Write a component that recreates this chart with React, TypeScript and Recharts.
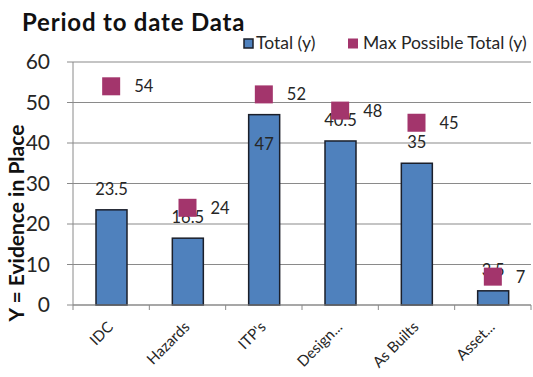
import { Bar, ComposedChart, CartesianGrid, Scatter, XAxis, YAxis } from 'recharts';

const categories = ['IDC', 'Hazards', "ITP's", 'Design...', 'As Builts', 'Asset...'];
const totalValues = [23.5, 16.5, 47, 40.5, 35, 3.5];
const maxValues = [54, 24, 52, 48, 45, 7];
const yTicks = [0, 10, 20, 30, 40, 50, 60];

const data = categories.map((name, i) => ({
  name,
  total: totalValues[i],
  max: maxValues[i],
}));

const FONT = 'Lato, "Open Sans", sans-serif';
const BAR_FILL = '#4F81BD';
const BAR_STROKE = '#1b1f2a';
const MARK_FILL = '#A3356C';
const AXIS = '#8a8a8a';
const TEXT = '#262626';

function TotalBar(props: any) {
  const { x, y, width, height, value } = props;
  const v = Array.isArray(value) ? value[1] : value;
  // Excel pushed the tallest label inside the bar, the rest sit above
  const inside = v >= 45;
  return (
    <g>
      <rect x={x} y={y} width={width} height={height} fill={BAR_FILL} stroke={BAR_STROKE} strokeWidth={1.5} />
      <text
        x={x + width / 2}
        y={inside ? y + 35 : y - 15}
        textAnchor="middle"
        fontSize={16.5}
        fontFamily={FONT}
        fill={TEXT}
      >
        {v}
      </text>
    </g>
  );
}

function MaxMarker(props: any) {
  const { cx, cy, payload } = props;
  return (
    <g>
      <rect x={cx - 9} y={cy - 9} width={18} height={18} fill={MARK_FILL} />
      <text x={cx + 23} y={cy + 6} fontSize={16.5} fontFamily={FONT} fill={TEXT}>
        {payload.max}
      </text>
    </g>
  );
}

function CategoryTick(props: any) {
  const { x, y, payload, index } = props;
  const half = payload.offset ?? 38;
  return (
    <g>
      <line x1={x - half} x2={x - half} y1={y} y2={y + 5} stroke={AXIS} />
      {index === categories.length - 1 && (
        <line x1={x + half} x2={x + half} y1={y} y2={y + 5} stroke={AXIS} />
      )}
      <text
        x={x + 3}
        y={y + 23}
        textAnchor="end"
        transform={`rotate(-45, ${x + 3}, ${y + 23})`}
        fontSize={15}
        fontFamily={FONT}
        fill={TEXT}
      >
        {payload.value}
      </text>
    </g>
  );
}

export default function App() {
  return (
    <div style={{ position: 'absolute', left: 0, top: 0, width: 533, height: 377, background: '#fff' }}>
      <ComposedChart
        width={533}
        height={377}
        data={data}
        margin={{ top: 62, right: 2, left: 0, bottom: 0 }}
      >
        <CartesianGrid vertical={false} stroke={AXIS} strokeWidth={1.2} />
        <XAxis
          dataKey="name"
          height={72}
          stroke={AXIS}
          tickLine={false}
          tickSize={0}
          tickMargin={0}
          tick={<CategoryTick />}
          interval={0}
        />
        <YAxis
          width={73}
          domain={[0, 60]}
          ticks={yTicks}
          stroke={AXIS}
          tickSize={6}
          tickMargin={17}
          tick={{ fontSize: 21, fontFamily: FONT, fill: TEXT }}
        />
        <Bar dataKey="total" barSize={31} shape={<TotalBar />} isAnimationActive={false} />
        <Scatter dataKey="max" shape={<MaxMarker />} isAnimationActive={false} />
      </ComposedChart>
      <svg
        width={533}
        height={377}
        style={{ position: 'absolute', left: 0, top: 0, pointerEvents: 'none' }}
      >
        <text x={22} y={31} fontSize={24} letterSpacing={0.8} fontWeight="bold" fontFamily={FONT} fill="#111">
          Period to date Data
        </text>
        <text
          x={24}
          y={223}
          textAnchor="middle"
          transform="rotate(-90, 24, 223)"
          fontSize={21}
          fontWeight="bold"
          fontFamily={FONT}
          fill="#111"
        >
          Y = Evidence in Place
        </text>
        <rect x={244} y={39} width={9} height={9} fill={BAR_FILL} stroke={BAR_STROKE} strokeWidth={1.5} />
        <text x={256} y={49} fontSize={17.5} fontFamily={FONT} fill={TEXT}>
          Total (y)
        </text>
        <rect x={348} y={38.5} width={10} height={10} fill={MARK_FILL} />
        <text x={363} y={49} fontSize={17.5} fontFamily={FONT} fill={TEXT}>
          Max Possible Total (y)
        </text>
      </svg>
    </div>
  );
}
